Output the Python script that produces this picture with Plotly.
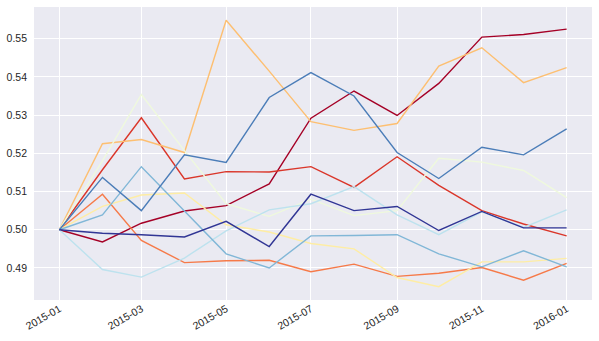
import pandas as pd
import plotly.graph_objects as go

# Monthly observation dates
dates = pd.date_range("2015-01-01", periods=13, freq="MS")

# Ten series, each starting from 0.50
s0 = [0.5000, 0.4968, 0.5017, 0.5049, 0.5063, 0.5120, 0.5292, 0.5363, 0.5299, 0.5383, 0.5504, 0.5511, 0.5525]
s1 = [0.5000, 0.5157, 0.5293, 0.5133, 0.5152, 0.5151, 0.5165, 0.5111, 0.5191, 0.5116, 0.5050, 0.5015, 0.4984]
s2 = [0.5000, 0.5093, 0.4972, 0.4914, 0.4919, 0.4920, 0.4890, 0.4910, 0.4878, 0.4886, 0.4901, 0.4868, 0.4912]
s3 = [0.5000, 0.5225, 0.5236, 0.5202, 0.5548, 0.5415, 0.5283, 0.5260, 0.5278, 0.5428, 0.5476, 0.5385, 0.5424]
s4 = [0.5000, 0.5061, 0.5091, 0.5096, 0.5013, 0.4994, 0.4964, 0.4950, 0.4875, 0.4851, 0.4916, 0.4916, 0.4925]
s5 = [0.5000, 0.5180, 0.5354, 0.5207, 0.5068, 0.5035, 0.5080, 0.5037, 0.5050, 0.5187, 0.5177, 0.5155, 0.5084]
s6 = [0.5000, 0.4896, 0.4876, 0.4926, 0.4997, 0.5052, 0.5068, 0.5113, 0.5039, 0.4987, 0.5047, 0.5006, 0.5052]
s7 = [0.5000, 0.5039, 0.5165, 0.5048, 0.4937, 0.4900, 0.4984, 0.4985, 0.4987, 0.4937, 0.4903, 0.4945, 0.4903]
s8 = [0.5000, 0.5137, 0.5050, 0.5196, 0.5176, 0.5346, 0.5411, 0.5350, 0.5202, 0.5134, 0.5216, 0.5196, 0.5264]
s9 = [0.5000, 0.4991, 0.4987, 0.4981, 0.5022, 0.4956, 0.5093, 0.5050, 0.5061, 0.4998, 0.5048, 0.5005, 0.5005]
series = [s0, s1, s2, s3, s4, s5, s6, s7, s8, s9]

# RdYlBu colormap sampled at ten evenly spaced points
colors = [
    "rgb(165,0,38)", "rgb(218,54,42)", "rgb(246,122,73)", "rgb(253,191,113)",
    "rgb(254,237,164)", "rgb(239,249,221)", "rgb(189,226,238)", "rgb(129,183,215)",
    "rgb(75,125,184)", "rgb(49,54,149)",
]

y_ticks = [0.49, 0.50, 0.51, 0.52, 0.53, 0.54, 0.55]
x_ticks = pd.date_range("2015-01-01", "2016-01-01", freq="2MS")
x_tick_labels = [d.strftime("%Y-%m") for d in x_ticks]

fig = go.Figure()
for vals, col in zip(series, colors):
    fig.add_trace(go.Scatter(
        x=dates, y=vals, mode="lines",
        line=dict(color=col, width=1.4),
        showlegend=False,
    ))

# 5% padding around the data, as in the default axis margins
all_vals = [v for s in series for v in s]
ymin, ymax = min(all_vals), max(all_vals)
ypad = (ymax - ymin) * 0.05
x0, x1 = dates[0], dates[-1]
xpad = (x1 - x0) * 0.05

fig.update_layout(
    width=599, height=341,
    margin=dict(l=34, r=7, t=7, b=41),
    paper_bgcolor="white",
    plot_bgcolor="#EAEAF2",
    font=dict(family="Liberation Sans, Arial, sans-serif", size=10.5, color="#262626"),
)
fig.update_xaxes(
    range=[x0 - xpad, x1 + xpad],
    tickvals=x_ticks, ticktext=x_tick_labels, tickangle=-30,
    showgrid=True, gridcolor="white", gridwidth=1,
    zeroline=False, showline=False, ticks="",
)
fig.update_yaxes(
    range=[ymin - ypad, ymax + ypad],
    tickvals=y_ticks, ticktext=[f"{v:.2f}" for v in y_ticks],
    showgrid=True, gridcolor="white", gridwidth=1,
    zeroline=False, showline=False, ticks="", ticklabelstandoff=6,
)

fig.write_html("out.html")
